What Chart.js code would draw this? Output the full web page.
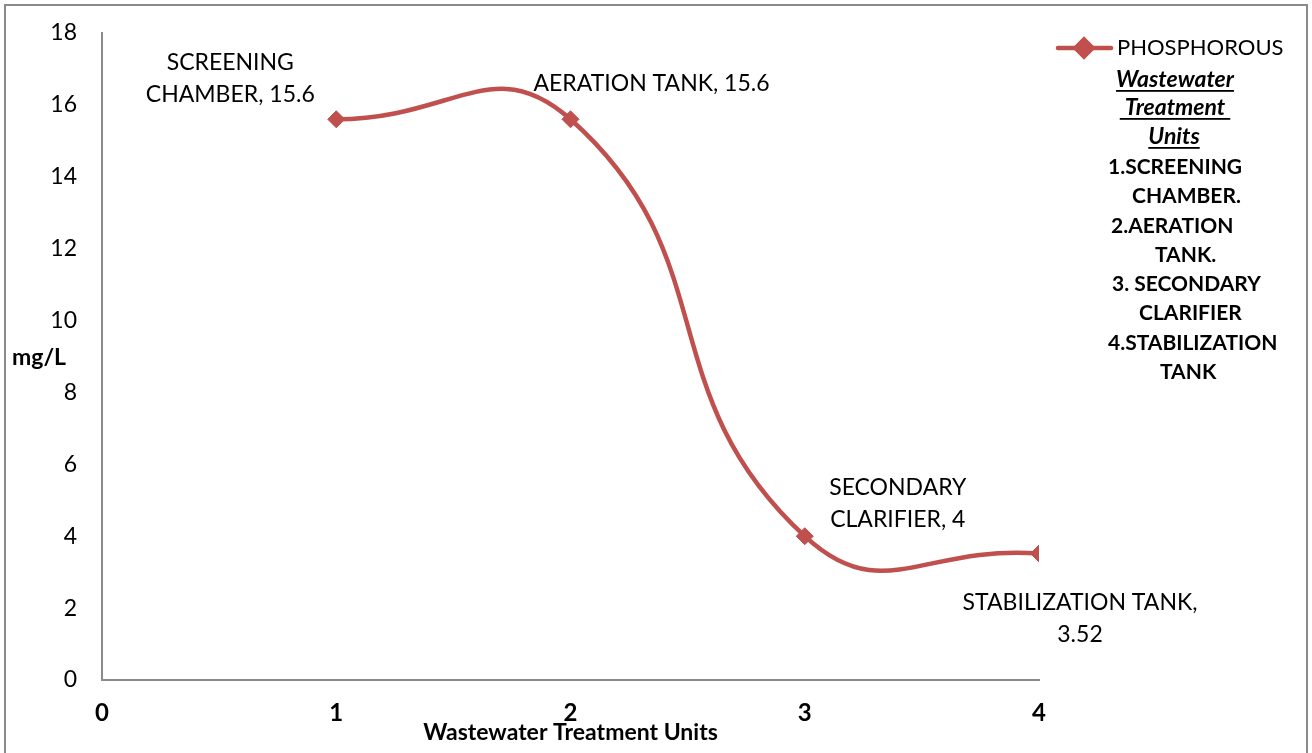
<!DOCTYPE html>
<html>
<head>
<meta charset="utf-8">
<title>Phosphorous across wastewater treatment units</title>
<script src="https://cdn.jsdelivr.net/npm/chart.js@4.4.1/dist/chart.umd.min.js"></script>
<style>
  html, body { margin: 0; padding: 0; background: #ffffff; }
  canvas { display: block; }
</style>
</head>
<body>
<canvas id="chart" width="1312" height="753"></canvas>
<script>
// Treatment units along the flow path and the phosphorous measured at each
const categories = ['SCREENING CHAMBER', 'AERATION TANK', 'SECONDARY CLARIFIER', 'STABILIZATION TANK'];
const unitNumbers = [1, 2, 3, 4];
const phosphorous = [15.6, 15.6, 4, 3.52];

// Axis ticks
const xTickValues = [0, 1, 2, 3, 4];
const yTickValues = [0, 2, 4, 6, 8, 10, 12, 14, 16, 18];

// Text
const seriesName = 'PHOSPHOROUS';
const yAxisTitle = 'mg/L';
const xAxisTitle = 'Wastewater Treatment Units';
const legendHeading = ['Wastewater', ' Treatment ', 'Units'];
const legendUnits = ['1.SCREENING', 'CHAMBER.', '2.AERATION', 'TANK.', '3. SECONDARY', 'CLARIFIER', '4.STABILIZATION', 'TANK'];
// how many words of each point label go on its first line
const labelFirstLineWords = [1, 3, 1, 2];

const FONT = 'Lato, "Open Sans", "DejaVu Sans", sans-serif';
const RED = '#C0504D';
const AXIS_GREY = '#8a8a8a';

// Point label placement relative to the marker: centre x offset, first line y offset
const labelPlacement = [
  { dx: -106, dy: -57 },
  { dx: 81, dy: -36 },
  { dx: 93, dy: -49 },
  { dx: 41, dy: 49 }
];

const pointLabelsPlugin = {
  id: 'pointLabels',
  afterDatasetsDraw(chart) {
    const ctx = chart.ctx;
    const meta = chart.getDatasetMeta(0);
    ctx.save();
    ctx.font = '23px ' + FONT;
    ctx.fillStyle = '#000';
    ctx.textAlign = 'center';
    ctx.textBaseline = 'middle';
    meta.data.forEach((pt, i) => {
      const words = (categories[i] + ', ' + phosphorous[i]).split(' ');
      const n = labelFirstLineWords[i];
      const lines = [words.slice(0, n).join(' ')];
      if (n < words.length) lines.push(words.slice(n).join(' '));
      const p = labelPlacement[i];
      lines.forEach((ln, k) => ctx.fillText(ln, pt.x + p.dx, pt.y + p.dy + k * 32.5));
    });
    ctx.restore();
  }
};

const decorPlugin = {
  id: 'decor',
  beforeDraw(chart) {
    const ctx = chart.ctx;
    ctx.save();
    ctx.fillStyle = '#ffffff';
    ctx.fillRect(0, 0, chart.width, chart.height);
    ctx.strokeStyle = AXIS_GREY;
    ctx.lineWidth = 2;
    ctx.strokeRect(5, 5, 1302, 800);
    ctx.restore();
  },
  afterDraw(chart) {
    const ctx = chart.ctx;
    const area = chart.chartArea;
    ctx.save();
    ctx.fillStyle = '#000';
    ctx.textBaseline = 'middle';

    // axis titles
    ctx.font = 'bold 23px ' + FONT;
    ctx.textAlign = 'left';
    ctx.fillText(yAxisTitle, 12, 358);
    ctx.textAlign = 'center';
    ctx.fillText(xAxisTitle, (area.left + area.right) / 2, 733);

    // legend entry: line sample with marker
    const ds = chart.data.datasets[0];
    ctx.strokeStyle = RED;
    ctx.lineWidth = 4.5;
    ctx.lineCap = 'round';
    ctx.beginPath();
    ctx.moveTo(1058, 48);
    ctx.lineTo(1111, 48);
    ctx.stroke();
    ctx.fillStyle = RED;
    Chart.helpers.drawPoint(ctx, { pointStyle: 'rectRot', radius: 8.5, borderWidth: 1, rotation: 0 }, 1084, 48);
    ctx.fillStyle = '#000';
    ctx.textAlign = 'left';
    ctx.font = '22px ' + FONT;
    ctx.fillText(ds.label, 1117, 48);

    // legend notes: heading (bold italic, underlined) then the numbered units (bold)
    ctx.textAlign = 'center';
    ctx.font = 'italic bold 23px ' + FONT;
    const headY = [80, 108, 137];
    const headX = [1175, 1175, 1174];
    legendHeading.forEach((t, i) => {
      ctx.fillText(t, headX[i], headY[i]);
      const w = ctx.measureText(t).width;
      ctx.fillRect(headX[i] - w / 2, headY[i] + 10, w, 1.8);
    });
    ctx.textAlign = 'left';
    ctx.font = 'bold 21px ' + FONT;
    const unitX = [1108, 1132, 1111, 1155, 1112, 1139, 1108, 1160];
    const unitY = [167, 196, 226, 255, 284, 313, 343, 372];
    legendUnits.forEach((t, i) => ctx.fillText(t, unitX[i], unitY[i]));
    ctx.restore();
  }
};

new Chart(document.getElementById('chart'), {
  type: 'line',
  data: {
    datasets: [{
      label: seriesName,
      data: unitNumbers.map((x, i) => ({ x: x, y: phosphorous[i] })),
      borderColor: RED,
      backgroundColor: RED,
      borderWidth: 4.5,
      tension: 0.5,
      pointStyle: 'rectRot',
      pointRadius: 8.5,
      pointHoverRadius: 8.5,
      pointBorderWidth: 1,
      pointBorderColor: RED,
      pointBackgroundColor: RED,
      fill: false
    }]
  },
  plugins: [decorPlugin, pointLabelsPlugin],
  options: {
    responsive: false,
    animation: false,
    devicePixelRatio: 1,
    layout: { padding: { top: 33, right: 273, bottom: 0, left: 0 } },
    plugins: {
      legend: { display: false },
      tooltip: { enabled: false }
    },
    scales: {
      x: {
        type: 'linear',
        min: 0,
        max: 4,
        afterBuildTicks(scale) { scale.ticks = xTickValues.map(v => ({ value: v })); },
        afterFit(scale) { scale.height = 73; },
        grid: { display: false, drawTicks: true, tickLength: 19 },
        border: { display: true, color: AXIS_GREY, width: 2 },
        ticks: {
          color: '#000',
          padding: 0,
          maxRotation: 0,
          font: { family: FONT, size: 24, weight: 'bold' }
        }
      },
      y: {
        type: 'linear',
        min: 0,
        max: 18,
        afterBuildTicks(scale) { scale.ticks = yTickValues.map(v => ({ value: v })); },
        afterFit(scale) { scale.width = 102; },
        grid: { display: false, drawTicks: true, tickLength: 25 },
        border: { display: true, color: AXIS_GREY, width: 2 },
        ticks: {
          color: '#000',
          padding: 0,
          font: { family: FONT, size: 23 }
        }
      }
    }
  }
});
</script>
</body>
</html>
